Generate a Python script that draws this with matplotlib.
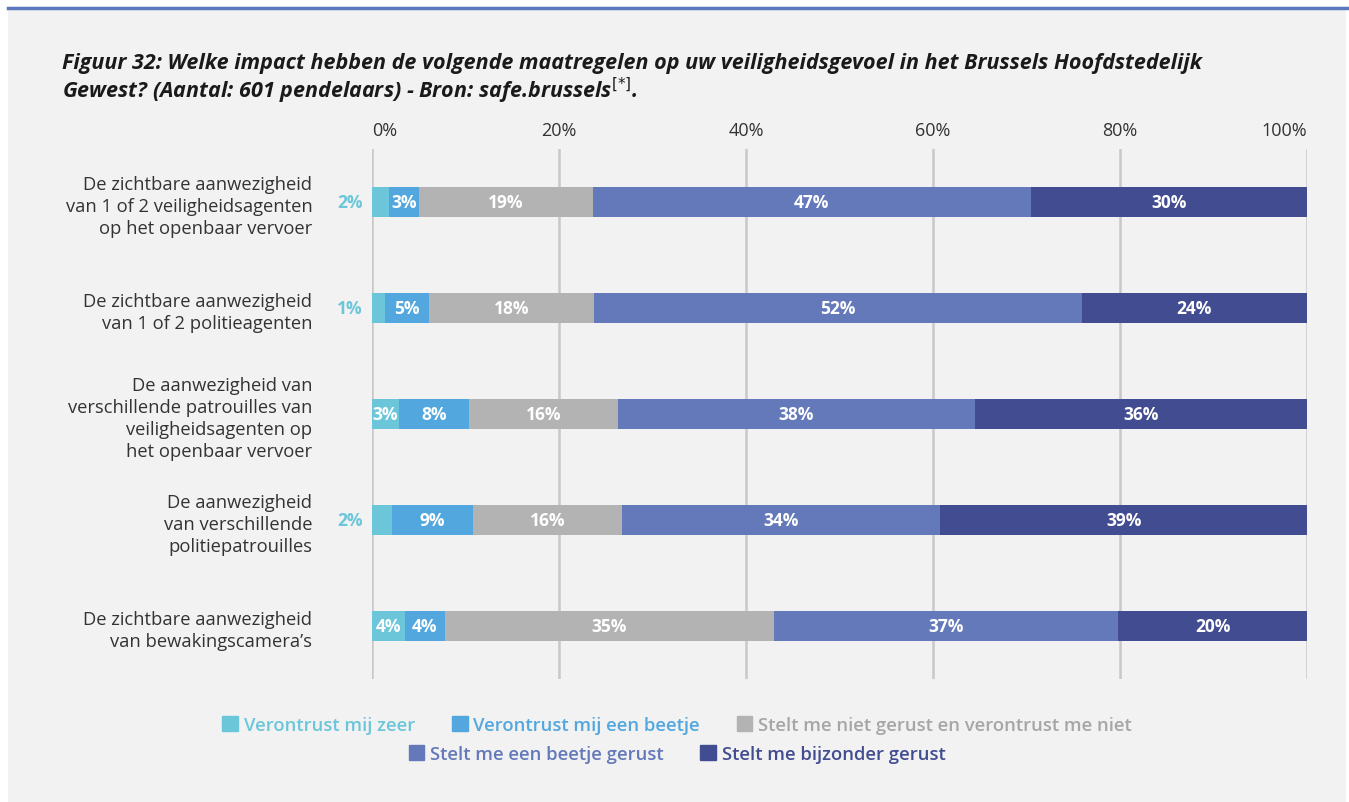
#%% libs
import matplotlib.pyplot as plt
from matplotlib.patches import Rectangle
from matplotlib.lines import Line2D

#%% data
categories = ['De zichtbare aanwezigheid\nvan 1 of 2 veiligheidsagenten\nop het openbaar vervoer',
              'De zichtbare aanwezigheid\nvan 1 of 2 politieagenten',
              'De aanwezigheid van\nverschillende patrouilles van\nveiligheidsagenten op\nhet openbaar vervoer',
              'De aanwezigheid\nvan verschillende\npolitiepatrouilles',
              'De zichtbare aanwezigheid\nvan bewakingscamera\u2019s']
series_names = ['Verontrust mij zeer',
                'Verontrust mij een beetje',
                'Stelt me niet gerust en verontrust me niet',
                'Stelt me een beetje gerust',
                'Stelt me bijzonder gerust']
zeer = [1.8, 1.4, 2.9, 2.1, 3.5]
beetje = [3.2, 4.7, 7.5, 8.7, 4.3]
neutraal = [18.6, 17.6, 15.9, 15.9, 35.2]
gerust = [46.9, 52.2, 38.2, 34.1, 36.8]
bijzonder = [29.5, 24.1, 35.5, 39.2, 20.2]
tick_values = [0, 20, 40, 60, 80, 100]
tick_labels = ['0%', '20%', '40%', '60%', '80%', '100%']

colors = ['#6cc6da', '#52a8de', '#b3b3b3', '#6479ba', '#424c90']
text_colors = ['#6cc6da', '#52a8de', '#a6a6a6', '#6479ba', '#424c90']

plt.rcParams['font.family'] = ['Open Sans', 'DejaVu Sans']

#%% plot
fig = plt.figure(figsize=(13.49, 8.03), dpi=100)
fig.patch.set_facecolor('white')
fig.patches.append(Rectangle((8 / 1349, 0), 1338 / 1349, 793 / 803,
                             transform=fig.transFigure, facecolor='#f2f2f2',
                             edgecolor='none', zorder=-10))
fig.lines.append(Line2D([8 / 1349, 1], [1 - 9 / 803, 1 - 9 / 803],
                        transform=fig.transFigure, color='#5b78bf', lw=2.5))

ax = fig.add_axes([372 / 1349, 1 - 680 / 803, 935 / 1349, 530 / 803])
ax.set_facecolor('none')

all_series = [zeer, beetje, neutraal, gerust, bijzonder]
y = list(range(len(categories)))
left = [0] * len(categories)
for i, vals in enumerate(all_series):
    ax.barh(y, vals, left=left, height=0.285, color=colors[i],
            label=series_names[i], zorder=3)
    for j, v in enumerate(vals):
        lab = f'{v:.0f}%'
        if i == 0 and v < 2.5:
            ax.text(-1.0, j, lab, ha='right', va='center', color=colors[0],
                    fontsize=12.5, fontweight='bold', zorder=4)
        else:
            ax.text(left[j] + v / 2, j, lab, ha='center', va='center',
                    color='white', fontsize=12.5, fontweight='bold', zorder=4)
    left = [a + b for a, b in zip(left, vals)]

ax.set_xlim(0, 100)
ax.set_ylim(len(categories) - 0.5, -0.5)
ax.set_xticks(tick_values, tick_labels)
ax.xaxis.tick_top()
ax.tick_params(axis='x', length=0, pad=7, labelsize=13, labelcolor='#333333')
xl = ax.get_xticklabels()
xl[0].set_horizontalalignment('left')
xl[-1].set_horizontalalignment('right')
ax.set_yticks(y, categories)
ax.tick_params(axis='y', length=0, pad=43, labelsize=13.2, labelcolor='#333333')
for lab in ax.get_yticklabels():
    lab.set_multialignment('right')
    lab.set_linespacing(1.3)
ax.grid(axis='x', color='#c8c8c8', lw=1.8, zorder=0)
for s in ax.spines.values():
    s.set_visible(False)

#%% title
fig.text(62 / 1349, 1 - 53 / 803,
         'Figuur 32: Welke impact hebben de volgende maatregelen op uw veiligheidsgevoel in het Brussels Hoofdstedelijk\n'
         'Gewest? (Aantal: 601 pendelaars) - Bron: safe.brussels$^{[*]}$.',
         ha='left', va='top', fontsize=15.5, fontweight='bold', style='italic',
         color='#1a1a1a', linespacing=1.1)

#%% legend
handles = [Rectangle((0, 0), 1, 1, color=c) for c in colors]
leg1 = fig.legend(handles[:3], series_names[:3], loc='center',
                  bbox_to_anchor=(677 / 1349, 1 - 726 / 803), ncol=3,
                  frameon=False, handlelength=0.85, handleheight=0.85,
                  handletextpad=0.3, columnspacing=2.0, labelcolor=text_colors[:3],
                  prop={'weight': 'semibold', 'size': 13.3})
leg2 = fig.legend(handles[3:], series_names[3:], loc='center',
                  bbox_to_anchor=(677 / 1349, 1 - 755 / 803), ncol=2,
                  frameon=False, handlelength=0.85, handleheight=0.85,
                  handletextpad=0.3, columnspacing=2.0, labelcolor=text_colors[3:],
                  prop={'weight': 'semibold', 'size': 13.3})

plt.savefig('out.png', dpi=100)
